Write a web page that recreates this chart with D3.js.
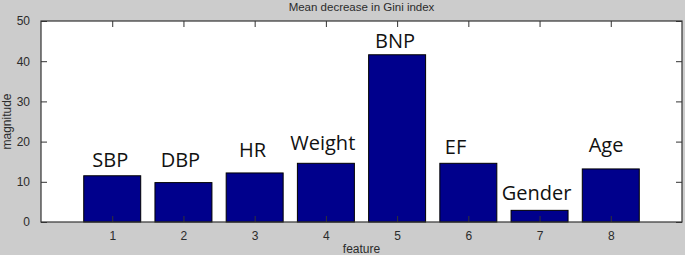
<!DOCTYPE html>
<html>
<head>
<meta charset="utf-8">
<script src="https://cdn.jsdelivr.net/npm/d3@7"></script>
<style>
    html, body { margin: 0; padding: 0; background: #cccccc; }
    svg { display: block; }
    .tick-text { font-family: 'Liberation Sans', Arial, sans-serif; font-size: 12px; fill: #2b2b2b; }
    .bar-label { font-family: 'Open Sans', sans-serif; font-size: 20px; fill: #111; }
</style>
</head>
<body>
<div id="plot"></div>
<script>
'use strict';

// data
let features = [1, 2, 3, 4, 5, 6, 7, 8],
    names = ['SBP', 'DBP', 'HR', 'Weight', 'BNP', 'EF', 'Gender', 'Age'],
    giniDecrease = [11.5, 9.8, 12.2, 14.6, 41.6, 14.6, 2.9, 13.2],
    // annotation anchors in data units (feature, magnitude)
    nameX = [0.72, 1.68, 2.78, 3.50, 4.69, 5.67, 6.47, 7.69],
    nameY = [13.8, 13.8, 16.1, 17.9, 43.4, 16.8, 5.5, 17.3],
    yTicks = [0, 10, 20, 30, 40, 50];

let svgWidth = 685,
    svgHeight = 255,
    margin = {top: 21, right: 3, bottom: 33, left: 41},
    chartWidth = svgWidth - margin.left - margin.right,
    chartHeight = svgHeight - margin.top - margin.bottom,
    svg = d3.select('#plot').append('svg')
        .attr('width', svgWidth)
        .attr('height', svgHeight),
    chartGroup = svg.append('g')
        .attr('transform', `translate(${margin.left}, ${margin.top})`);

let xScale = d3.scaleLinear().domain([0, 9]).range([0, chartWidth]),
    yScale = d3.scaleLinear().domain([0, 50]).range([chartHeight, 0]),
    barWidth = (xScale(1) - xScale(0)) * 0.8,
    tickLen = 6;

// plot area
chartGroup.append('rect')
    .attr('width', chartWidth)
    .attr('height', chartHeight)
    .attr('fill', '#fff');

// bars
chartGroup.selectAll('.bar')
    .data(giniDecrease).enter().append('rect')
    .attr('class', 'bar')
    .attr('x', (d, i) => xScale(features[i]) - barWidth / 2)
    .attr('y', d => yScale(d))
    .attr('width', barWidth)
    .attr('height', d => yScale(0) - yScale(d))
    .attr('fill', '#00008c')
    .attr('stroke', '#000')
    .attr('stroke-width', 1);

// axes, matlab style: ticks inside on all four sides
function styleAxis(g) {
    g.select('.domain').remove();
    g.selectAll('.tick line').attr('stroke', '#333');
    g.selectAll('.tick text').attr('class', 'tick-text').attr('fill', null);
}

chartGroup.append('g')
    .attr('transform', `translate(0, ${chartHeight})`)
    .call(d3.axisBottom(xScale).tickValues(features).tickSizeInner(-tickLen).tickSizeOuter(0).tickPadding(9))
    .call(styleAxis);

chartGroup.append('g')
    .call(d3.axisTop(xScale).tickValues(features).tickSizeInner(-tickLen).tickSizeOuter(0).tickFormat(''))
    .call(styleAxis);

chartGroup.append('g')
    .call(d3.axisLeft(yScale).tickValues(yTicks).tickSizeInner(-tickLen).tickSizeOuter(0).tickPadding(11))
    .call(styleAxis);

chartGroup.append('g')
    .attr('transform', `translate(${chartWidth}, 0)`)
    .call(d3.axisRight(yScale).tickValues(yTicks).tickSizeInner(-tickLen).tickSizeOuter(0).tickFormat(''))
    .call(styleAxis);

chartGroup.append('rect')
    .attr('width', chartWidth)
    .attr('height', chartHeight)
    .attr('fill', 'none')
    .attr('stroke', '#333')
    .attr('stroke-width', 1.2);

// feature names above bars
chartGroup.selectAll('.bar-label')
    .data(names).enter().append('text')
    .attr('class', 'bar-label')
    .attr('x', (d, i) => xScale(nameX[i]))
    .attr('y', (d, i) => yScale(nameY[i]))
    .text(d => d);

// title and axis labels
svg.append('text')
    .attr('class', 'tick-text')
    .attr('x', margin.left + chartWidth / 2)
    .attr('y', 11)
    .attr('text-anchor', 'middle')
    .style('font-size', '11.5px')
    .text('Mean decrease in Gini index');

svg.append('text')
    .attr('class', 'tick-text')
    .attr('x', margin.left + chartWidth / 2)
    .attr('y', 253)
    .attr('text-anchor', 'middle')
    .style('font-size', '12px')
    .text('feature');

svg.append('text')
    .attr('class', 'tick-text')
    .attr('transform', `translate(11, ${margin.top + chartHeight / 2}) rotate(-90)`)
    .attr('text-anchor', 'middle')
    .style('font-size', '12px')
    .text('magnitude');
</script>
</body>
</html>
